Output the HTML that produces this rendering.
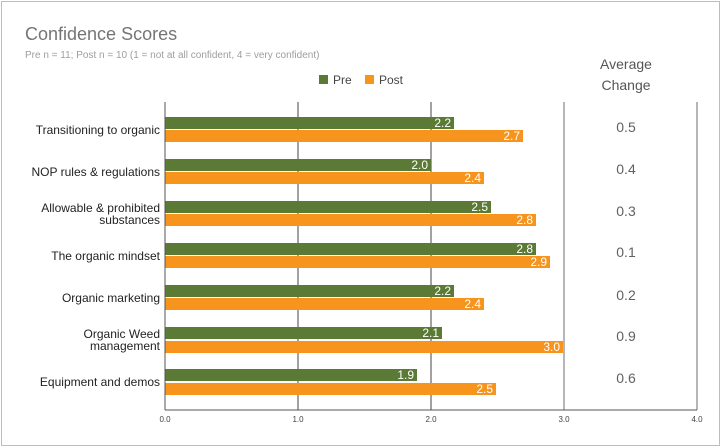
<!DOCTYPE html>
<html><head><style>
body{margin:0;background:#fff;}
svg{display:block;font-family:"Liberation Sans",sans-serif;}
</style></head><body>
<svg width="722" height="448" viewBox="0 0 722 448">
<rect x="1.5" y="1.5" width="718" height="444" fill="#fff" stroke="#bdbdbd" stroke-width="1"/>
<text x="25" y="40" font-size="18" fill="#757575">Confidence Scores</text>
<text x="25" y="58" font-size="10" fill="#9e9e9e">Pre n = 11; Post n = 10 (1 = not at all confident, 4 = very confident)</text>
<rect x="319" y="75" width="9" height="9" fill="#5b7a35"/>
<text x="333" y="84" font-size="12" fill="#444">Pre</text>
<rect x="365" y="75" width="9" height="9" fill="#f7941e"/>
<text x="379" y="84" font-size="12" fill="#444">Post</text>
<text x="626" y="69" font-size="14" fill="#555" text-anchor="middle">Average</text>
<text x="626" y="90" font-size="14" fill="#555" text-anchor="middle">Change</text>
<line x1="298" y1="102" x2="298" y2="410" stroke="#444" stroke-width="1"/>
<line x1="431" y1="102" x2="431" y2="410" stroke="#444" stroke-width="1"/>
<line x1="564" y1="102" x2="564" y2="410" stroke="#9e9e9e" stroke-width="1.5"/>
<line x1="697" y1="102" x2="697" y2="410" stroke="#9e9e9e" stroke-width="1.5"/>
<g font-size="12" fill="#fff" text-anchor="end">
<rect x="165" y="117" width="289" height="12" fill="#5b7a35"/><text x="451" y="127">2.2</text>
<rect x="165" y="130" width="358" height="12" fill="#f7941e"/><text x="520" y="140">2.7</text>
<rect x="165" y="159" width="266" height="12" fill="#5b7a35"/><text x="428" y="169">2.0</text>
<rect x="165" y="172" width="319" height="12" fill="#f7941e"/><text x="481" y="182">2.4</text>
<rect x="165" y="201" width="326" height="12" fill="#5b7a35"/><text x="488" y="211">2.5</text>
<rect x="165" y="214" width="371" height="12" fill="#f7941e"/><text x="533" y="224">2.8</text>
<rect x="165" y="243" width="371" height="12" fill="#5b7a35"/><text x="533" y="253">2.8</text>
<rect x="165" y="256" width="385" height="12" fill="#f7941e"/><text x="547" y="266">2.9</text>
<rect x="165" y="285" width="289" height="12" fill="#5b7a35"/><text x="451" y="295">2.2</text>
<rect x="165" y="298" width="319" height="12" fill="#f7941e"/><text x="481" y="308">2.4</text>
<rect x="165" y="327" width="277" height="12" fill="#5b7a35"/><text x="439" y="337">2.1</text>
<rect x="165" y="341" width="398" height="12" fill="#f7941e"/><text x="560" y="351">3.0</text>
<rect x="165" y="369" width="252" height="12" fill="#5b7a35"/><text x="414" y="379">1.9</text>
<rect x="165" y="383" width="331" height="12" fill="#f7941e"/><text x="493" y="393">2.5</text>
</g>
<line x1="165" y1="102" x2="165" y2="410" stroke="#555" stroke-width="1"/>
<line x1="165" y1="410" x2="697" y2="410" stroke="#555" stroke-width="1"/>
<g font-size="12" fill="#222" text-anchor="end">
<text x="160" y="134">Transitioning to organic</text>
<text x="160" y="176">NOP rules &amp; regulations</text>
<text x="160" y="212">Allowable &amp; prohibited</text>
<text x="160" y="224">substances</text>
<text x="160" y="260">The organic mindset</text>
<text x="160" y="302">Organic marketing</text>
<text x="160" y="338">Organic Weed</text>
<text x="160" y="350">management</text>
<text x="160" y="386">Equipment and demos</text>
</g>
<g font-size="14" fill="#616161" text-anchor="middle">
<text x="626" y="132">0.5</text>
<text x="626" y="174">0.4</text>
<text x="626" y="216">0.3</text>
<text x="626" y="257">0.1</text>
<text x="626" y="300">0.2</text>
<text x="626" y="341">0.9</text>
<text x="626" y="383">0.6</text>
</g>
<g font-size="8" fill="#444" text-anchor="middle">
<text x="165" y="422">0.0</text>
<text x="298" y="422">1.0</text>
<text x="431" y="422">2.0</text>
<text x="564" y="422">3.0</text>
<text x="697" y="422">4.0</text>
</g>
</svg>
</body></html>
